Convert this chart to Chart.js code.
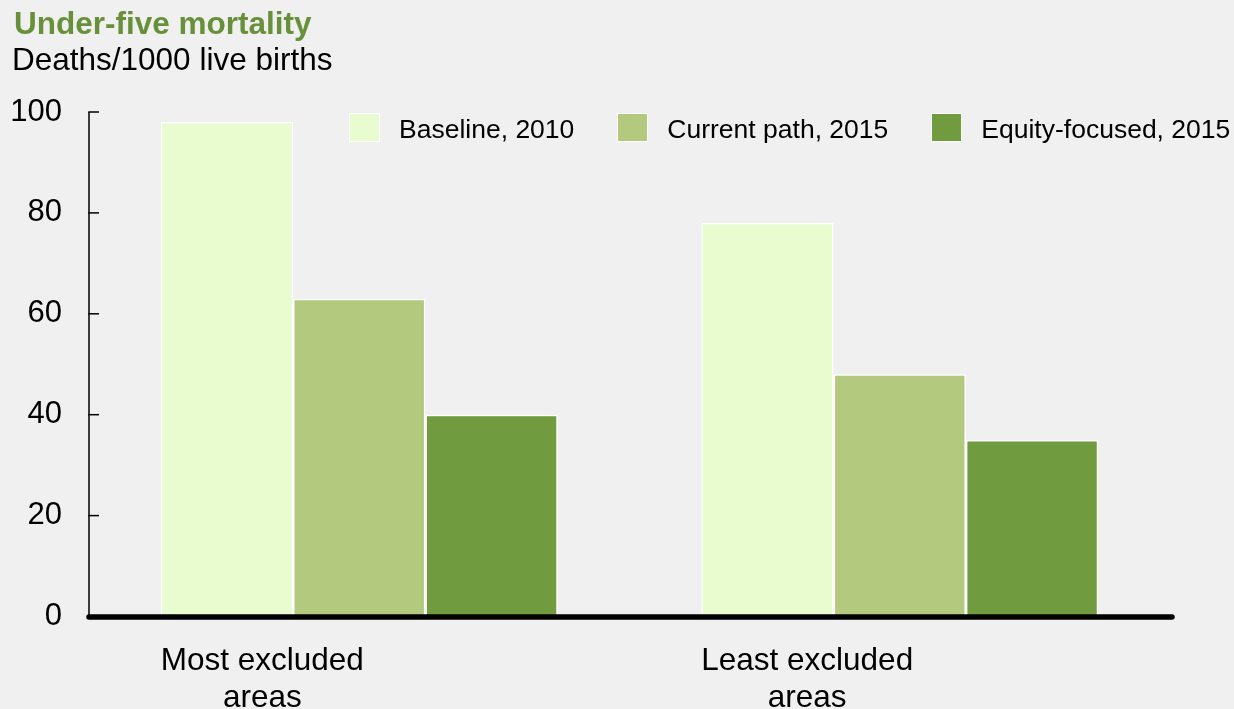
<!DOCTYPE html>
<html>
<head>
<meta charset="utf-8">
<script src="https://cdn.jsdelivr.net/npm/chart.js@4/dist/chart.umd.min.js"></script>
<style>
  html, body { margin: 0; padding: 0; background: #f0f0f0; }
  #wrap { position: relative; width: 1234px; height: 709px; overflow: hidden; background: #f0f0f0; font-family: "Liberation Sans", Arial, sans-serif; }
  canvas { position: absolute; left: 0; top: 0; }
  .title { position: absolute; left: 14px; top: 8px; font-size: 31.5px; line-height: 31.5px; font-weight: bold; color: #68903a; white-space: nowrap; }
  .subtitle { position: absolute; left: 12px; top: 44px; font-size: 31.5px; line-height: 31.5px; color: #000; white-space: nowrap; }
  #legend { position: absolute; left: 349px; top: 113px; display: flex; align-items: center; height: 29px; white-space: nowrap; }
  .item { display: flex; align-items: center; margin-right: 43px; }
  .box { width: 29px; height: 27px; border: 1px solid #ffffff; margin-right: 19px; }
  .lbl { font-size: 26.5px; line-height: 29px; color: #000; position: relative; top: 2px; }
</style>
</head>
<body>
<div id="wrap">
  <canvas id="c" width="1234" height="709"></canvas>
  <div class="title">Under-five mortality</div>
  <div class="subtitle">Deaths/1000 live births</div>
  <div id="legend"></div>
</div>
<script>
const categories = [["Most excluded", "areas"], ["Least excluded", "areas"]];
const seriesNames = ["Baseline, 2010", "Current path, 2015", "Equity-focused, 2015"];
const baseline2010 = [98, 78];
const currentPath2015 = [63, 48];
const equityFocused2015 = [40, 35];
const seriesColors = ["#e9fcd0", "#b2c97e", "#709b3e"];
const yTicks = [0, 20, 40, 60, 80, 100];

const seriesValues = [baseline2010, currentPath2015, equityFocused2015];

const FONT = "'Liberation Sans', Arial, sans-serif";

const axisPlugin = {
  id: 'customAxes',
  afterDatasetsDraw(chart) {
    const { ctx, chartArea, scales: { y } } = chart;
    ctx.save();
    ctx.strokeStyle = '#000';
    ctx.lineWidth = 1.5;
    const ax = chartArea.left;
    const top = y.getPixelForValue(y.max);
    const zero = y.getPixelForValue(0);
    ctx.beginPath();
    ctx.moveTo(ax, top);
    ctx.lineTo(ax, zero);
    ctx.stroke();
    y.ticks.forEach(t => {
      if (t.value === 0) return;
      const py = y.getPixelForValue(t.value);
      ctx.beginPath();
      ctx.moveTo(ax - 0.75, py);
      ctx.lineTo(ax + 10, py);
      ctx.stroke();
    });
    ctx.lineWidth = 5.5;
    ctx.lineCap = 'round';
    ctx.beginPath();
    ctx.moveTo(chartArea.left, zero + 0.5);
    ctx.lineTo(chartArea.right + 2, zero + 0.5);
    ctx.stroke();

    // category labels: block left-aligned with the bar group, lines centred within block
    const firstMeta = chart.getDatasetMeta(0);
    ctx.fillStyle = '#000';
    ctx.font = "31.5px " + FONT;
    ctx.textAlign = 'center';
    ctx.textBaseline = 'alphabetic';
    categories.forEach((lines, i) => {
      const bar = firstMeta.data[i];
      const left = bar.x - bar.width / 2;
      const maxW = Math.max(...lines.map(l => ctx.measureText(l).width));
      const cx = left + maxW / 2;
      lines.forEach((l, k) => {
        ctx.fillText(l, cx, zero + 53 + k * 37);
      });
    });
    ctx.restore();
  }
};

const datasets = seriesNames.map((name, i) => ({
  label: name,
  data: seriesValues[i],
  backgroundColor: seriesColors[i],
  borderColor: '#ffffff',
  borderWidth: 1.5,
  borderSkipped: 'bottom',
  categoryPercentage: 0.7345,
  barPercentage: 1.0
}));

new Chart(document.getElementById('c'), {
  type: 'bar',
  data: { labels: categories, datasets },
  options: {
    responsive: false,
    animation: false,
    devicePixelRatio: 1,
    layout: { padding: { top: 112, right: 64, left: 0, bottom: 0 } },
    plugins: {
      legend: { display: false },
      tooltip: { enabled: false },
      title: { display: false }
    },
    scales: {
      x: {
        grid: { display: false, drawTicks: false },
        border: { display: false },
        ticks: { display: false },
        afterFit(scale) { scale.height = 92.5; }
      },
      y: {
        min: 0,
        max: 100,
        afterBuildTicks(scale) { scale.ticks = yTicks.map(v => ({ value: v })); },
        grid: { display: false, drawTicks: false },
        border: { display: false },
        ticks: {
          color: '#000',
          font: { family: FONT, size: 31 },
          padding: 27
        },
        afterFit(scale) { scale.width = 89; }
      }
    }
  },
  plugins: [axisPlugin]
});

const legend = document.getElementById('legend');
seriesNames.forEach((name, i) => {
  const item = document.createElement('div');
  item.className = 'item';
  const box = document.createElement('div');
  box.className = 'box';
  box.style.background = seriesColors[i];
  const lbl = document.createElement('span');
  lbl.className = 'lbl';
  lbl.textContent = name;
  item.appendChild(box);
  item.appendChild(lbl);
  legend.appendChild(item);
});
</script>
</body>
</html>
